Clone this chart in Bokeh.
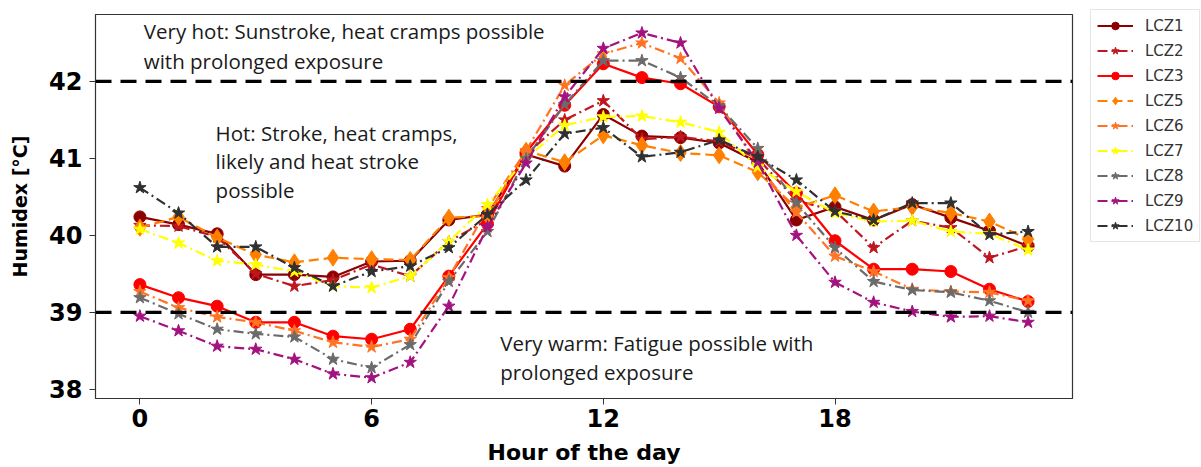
from bokeh.plotting import figure
from bokeh.models import Legend, LegendItem, Label, Span
from bokeh.embed import file_html
from bokeh.resources import INLINE

# Hour of the day
hours = list(range(24))

# Mean humidex per local climate zone [°C]
lcz1 = [40.24, 40.14, 40.02, 39.49, 39.49, 39.46, 39.66, 39.67, 40.2, 40.27, 41.05, 40.9,
        41.57, 41.29, 41.27, 41.2, 40.95, 40.2, 40.37, 40.2, 40.4, 40.23, 40.06, 39.86]
lcz2 = [40.13, 40.12, 39.98, 39.5, 39.34, 39.42, 39.62, 39.47, 39.92, 40.2, 41.05, 41.5,
        41.75, 41.25, 41.28, 41.22, 41.0, 40.45, 40.32, 39.84, 40.19, 40.1, 39.71, 39.86]
lcz3 = [39.36, 39.19, 39.08, 38.87, 38.87, 38.69, 38.65, 38.78, 39.47, 40.15, 41.08, 41.69,
        42.23, 42.05, 41.97, 41.67, 41.05, 40.55, 39.93, 39.56, 39.56, 39.53, 39.3, 39.14]
lcz5 = [40.1, 40.24, 39.97, 39.75, 39.65, 39.71, 39.69, 39.68, 40.23, 40.25, 41.1, 40.95,
        41.3, 41.17, 41.07, 41.04, 40.82, 40.36, 40.52, 40.31, 40.37, 40.29, 40.18, 39.95]
lcz6 = [39.27, 39.06, 38.94, 38.87, 38.76, 38.61, 38.55, 38.65, 39.45, 40.35, 41.1, 41.95,
        42.36, 42.5, 42.3, 41.72, 40.9, 40.3, 39.73, 39.53, 39.3, 39.27, 39.26, 39.15]
lcz7 = [40.08, 39.9, 39.67, 39.62, 39.53, 39.34, 39.32, 39.47, 39.92, 40.4, 41.0, 41.43,
        41.54, 41.55, 41.47, 41.34, 40.89, 40.57, 40.29, 40.18, 40.19, 40.05, 40.02, 39.81]
lcz8 = [39.19, 38.98, 38.78, 38.72, 38.68, 38.39, 38.28, 38.58, 39.4, 40.05, 41.0, 41.7,
        42.27, 42.27, 42.05, 41.68, 41.13, 40.42, 39.84, 39.4, 39.29, 39.26, 39.15, 39.0]
lcz9 = [38.95, 38.76, 38.56, 38.52, 38.39, 38.2, 38.15, 38.35, 39.08, 40.11, 40.94, 41.8,
        42.43, 42.63, 42.5, 41.65, 40.95, 40.0, 39.39, 39.13, 39.01, 38.94, 38.95, 38.87]
lcz10 = [40.62, 40.29, 39.85, 39.85, 39.58, 39.34, 39.53, 39.6, 39.84, 40.27, 40.72, 41.32,
         41.4, 41.02, 41.08, 41.24, 41.02, 40.72, 40.31, 40.2, 40.42, 40.42, 40.01, 40.05]

zone_names = ["LCZ1", "LCZ2", "LCZ3", "LCZ5", "LCZ6", "LCZ7", "LCZ8", "LCZ9", "LCZ10"]
zone_values = [lcz1, lcz2, lcz3, lcz5, lcz6, lcz7, lcz8, lcz9, lcz10]

# Comfort class thresholds
thresholds = [42, 39]

y_ticks = [38, 39, 40, 41, 42]
x_ticks = [0, 6, 12, 18]

# name -> (colour, dash, marker, marker size)
styles = {
    "LCZ1": ("#8B0000", "solid", "circle", 12),
    "LCZ2": ("#C0161F", "10 4 2 4", "star", 13),
    "LCZ3": ("#FF0000", "solid", "circle", 12),
    "LCZ5": ("#FF8000", "10 5", "diamond", 17),
    "LCZ6": ("#FF7424", "10 4 2 4", "star", 13),
    "LCZ7": ("#FFFF00", "10 4 2 4", "star", 13),
    "LCZ8": ("#6B6B6B", "10 4 2 4", "star", 13),
    "LCZ9": ("#A3137F", "10 4 2 4", "star", 13),
    "LCZ10": ("#303030", "10 4 2 4", "star", 13),
}

p = figure(frame_width=977, frame_height=384,
           x_range=(-1.15, 24.15), y_range=(37.88, 42.87),
           output_backend="svg", toolbar_location=None,
           min_border_left=95, min_border_right=129,
           min_border_top=14, min_border_bottom=69)
p.background_fill_color = "white"
p.border_fill_color = "white"
p.grid.visible = False
p.outline_line_color = "#333333"
p.outline_line_width = 1.2

for ax in (p.xaxis[0], p.yaxis[0]):
    ax.axis_line_color = "#333333"
    ax.major_tick_line_color = "#333333"
    ax.major_tick_in = 0
    ax.major_tick_out = 6
    ax.minor_tick_line_color = None
    ax.major_label_text_font = "DejaVu Sans"
    ax.major_label_text_font_style = "bold"
    ax.major_label_text_font_size = "24px"
    ax.major_label_text_color = "black"
    ax.axis_label_text_font = "DejaVu Sans"
    ax.axis_label_text_font_style = "bold"
    ax.axis_label_text_color = "black"

p.xaxis.ticker = x_ticks
p.yaxis.ticker = y_ticks
p.xaxis.axis_label = "Hour of the day"
p.yaxis.axis_label = "Humidex [°C]"
p.xaxis.axis_label_text_font_size = "22px"
p.yaxis.axis_label_text_font_size = "19px"
p.xaxis.major_label_standoff = 4
p.yaxis.major_label_standoff = 7
p.xaxis.axis_label_standoff = 10
p.yaxis.axis_label_standoff = 15

# Threshold lines
for t in thresholds:
    p.add_layout(Span(location=t, dimension="width", line_color="black",
                      line_width=3.2, line_dash="16 9"))

# Class descriptions
notes = [
    ("Very hot: Sunstroke, heat cramps possible", 0.10, 42.65),
    ("with prolonged exposure", 0.10, 42.27),
    ("Hot: Stroke, heat cramps,", 1.96, 41.33),
    ("likely and heat stroke", 1.96, 40.96),
    ("possible", 1.96, 40.59),
    ("Very warm: Fatigue possible with", 9.33, 38.60),
    ("prolonged exposure", 9.33, 38.23),
]
for txt, nx, ny in notes:
    p.add_layout(Label(x=nx, y=ny, text=txt, text_font="Open Sans",
                       text_font_size="20.5px", text_color="#1a1a1a",
                       text_baseline="middle", text_align="left"))

items = []
for name, vals in zip(zone_names, zone_values):
    color, dash, marker, msize = styles[name]
    ln = p.line(hours, vals, line_color=color, line_width=2.2, line_dash=dash)
    sc = p.scatter(hours, vals, marker=marker, size=msize,
                   fill_color=color, line_color=color)
    items.append(LegendItem(label=name, renderers=[ln, sc]))

legend = Legend(items=items, location=(18, 156), margin=0,
                glyph_width=36, glyph_height=19, label_height=19,
                spacing=6, padding=6, label_standoff=12,
                label_text_font="DejaVu Sans", label_text_font_size="15px",
                label_text_color="#333333",
                border_line_color="#cccccc", border_line_width=1,
                background_fill_color="white", background_fill_alpha=1)
p.add_layout(legend, "right")

open("out.html", "w").write(file_html(p, INLINE))
